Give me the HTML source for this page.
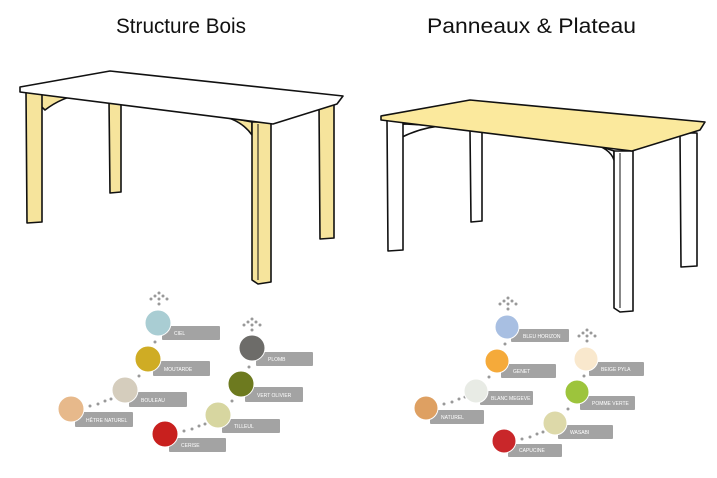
<!DOCTYPE html>
<html><head><meta charset="utf-8"><style>
html,body{margin:0;padding:0;background:#fff;width:717px;height:478px;overflow:hidden}
svg{display:block}
.t{font-family:"Liberation Sans",sans-serif;font-size:21px;fill:#111}
.l{font-family:"Liberation Sans",sans-serif;font-size:5px;fill:#fff}
.lb{fill:#a3a3a3}
</style></head><body>
<svg width="717" height="478" viewBox="0 0 717 478" xmlns="http://www.w3.org/2000/svg">
<text class="t" x="116" y="33" textLength="130" lengthAdjust="spacingAndGlyphs">Structure Bois</text>
<text class="t" x="427" y="33" textLength="209" lengthAdjust="spacingAndGlyphs">Panneaux &amp; Plateau</text>

<g stroke="#111" stroke-width="1.6" stroke-linejoin="round" fill="#f6e49c">
<polygon points="109,100 121,100 121,192 110,193"/>
<polygon points="319,104 334,104 334,238 320,239"/>
<path d="M28,94 Q40,96 48,93 L80,95 Q62,97 45,110 Z" />
<path d="M215,115 Q240,118 252,135 L252,122 Z"/>
<polygon points="26,92 42,92 42,222 27,223"/>
<polygon points="252,122 271,122 271,282 258,284 252,280"/>
<polygon points="20,87 110,71 343,96 337,104 273,124 20,92" fill="#fff"/>
</g>
<line x1="258" y1="124" x2="258" y2="280" stroke="#111" stroke-width="1"/>

<g stroke="#111" stroke-width="1.6" stroke-linejoin="round" fill="#fff">
<polygon points="470,130 482,130 482,221 471,222"/>
<polygon points="680,133 697,133 697,266 681,267"/>
<path d="M388,122 Q400,125 405,124 L440,126 Q420,128 400,138 Z"/>
<path d="M590,143 Q610,148 614,160 L614,151 Z"/>
<polygon points="387,120 403,120 403,250 388,251"/>
<polygon points="614,151 633,151 633,311 620,312 614,308"/>
<polygon points="381,116 470,100 705,122 700,130 632,151 381,120" fill="#fbe99d"/>
</g>
<line x1="620" y1="153" x2="620" y2="308" stroke="#111" stroke-width="1"/>

<g fill="#999">
<circle cx="159" cy="293" r="1.5"/><circle cx="155" cy="296" r="1.5"/><circle cx="163" cy="296" r="1.5"/><circle cx="151" cy="299" r="1.5"/><circle cx="159" cy="299" r="1.5"/><circle cx="167" cy="299" r="1.5"/><circle cx="159" cy="304" r="1.5"/>
<circle cx="252" cy="319" r="1.5"/><circle cx="248" cy="322" r="1.5"/><circle cx="256" cy="322" r="1.5"/><circle cx="244" cy="325" r="1.5"/><circle cx="252" cy="325" r="1.5"/><circle cx="260" cy="325" r="1.5"/><circle cx="252" cy="330" r="1.5"/>
<circle cx="155" cy="342" r="1.5"/><circle cx="139" cy="376" r="1.5"/>
<circle cx="90" cy="406" r="1.5"/><circle cx="98" cy="404" r="1.5"/><circle cx="105" cy="401" r="1.5"/><circle cx="111" cy="399" r="1.5"/>
<circle cx="249" cy="367" r="1.5"/><circle cx="232" cy="401" r="1.5"/>
<circle cx="184" cy="431" r="1.5"/><circle cx="192" cy="429" r="1.5"/><circle cx="199" cy="426" r="1.5"/><circle cx="205" cy="424" r="1.5"/>
<circle cx="508" cy="298" r="1.5"/><circle cx="504" cy="301" r="1.5"/><circle cx="512" cy="301" r="1.5"/><circle cx="500" cy="304" r="1.5"/><circle cx="508" cy="304" r="1.5"/><circle cx="516" cy="304" r="1.5"/><circle cx="508" cy="309" r="1.5"/>
<circle cx="587" cy="330" r="1.5"/><circle cx="583" cy="333" r="1.5"/><circle cx="591" cy="333" r="1.5"/><circle cx="579" cy="336" r="1.5"/><circle cx="587" cy="336" r="1.5"/><circle cx="595" cy="336" r="1.5"/><circle cx="587" cy="341" r="1.5"/>
<circle cx="505" cy="344" r="1.5"/><circle cx="489" cy="377" r="1.5"/>
<circle cx="444" cy="404" r="1.5"/><circle cx="452" cy="402" r="1.5"/><circle cx="459" cy="399" r="1.5"/><circle cx="465" cy="397" r="1.5"/>
<circle cx="584" cy="376" r="1.5"/><circle cx="568" cy="409" r="1.5"/>
<circle cx="522" cy="439" r="1.5"/><circle cx="530" cy="437" r="1.5"/><circle cx="537" cy="434" r="1.5"/><circle cx="543" cy="432" r="1.5"/>
</g>

<g>
<rect class="lb" x="162" y="326" width="58" height="14" rx="1"/><circle cx="158" cy="323" r="13" fill="#a9cdd3" stroke="#fff"/><text class="l" x="174" y="335">CIEL</text>
<rect class="lb" x="153" y="361" width="57" height="15" rx="1"/><circle cx="148" cy="359" r="13" fill="#cfac24" stroke="#fff"/><text class="l" x="164" y="371">MOUTARDE</text>
<rect class="lb" x="129" y="392" width="58" height="15" rx="1"/><circle cx="125" cy="390" r="13" fill="#d5cdbd" stroke="#fff"/><text class="l" x="141" y="402">BOULEAU</text>
<rect class="lb" x="75" y="412" width="58" height="15" rx="1"/><circle cx="71" cy="409" r="13" fill="#e7b98b" stroke="#fff"/><text class="l" x="86" y="422">HÊTRE NATUREL</text>
<rect class="lb" x="256" y="352" width="57" height="14" rx="1"/><circle cx="252" cy="348" r="13" fill="#6d6c69" stroke="#fff"/><text class="l" x="268" y="361">PLOMB</text>
<rect class="lb" x="245" y="387" width="58" height="15" rx="1"/><circle cx="241" cy="384" r="13" fill="#6d7a1f" stroke="#fff"/><text class="l" x="257" y="397">VERT OLIVIER</text>
<rect class="lb" x="222" y="419" width="58" height="14" rx="1"/><circle cx="218" cy="415" r="13" fill="#d7d6a0" stroke="#fff"/><text class="l" x="234" y="428">TILLEUL</text>
<rect class="lb" x="169" y="438" width="57" height="14" rx="1"/><circle cx="165" cy="434" r="13" fill="#c8201e" stroke="#fff"/><text class="l" x="181" y="447">CERISE</text>
</g>
<g>
<rect class="lb" x="511" y="329" width="58" height="13" rx="1"/><circle cx="507" cy="327" r="12" fill="#a8bfe2" stroke="#fff"/><text class="l" x="523" y="338">BLEU HORIZON</text>
<rect class="lb" x="501" y="364" width="55" height="14" rx="1"/><circle cx="497" cy="361" r="12" fill="#f5aa3a" stroke="#fff"/><text class="l" x="513" y="373">GENET</text>
<rect class="lb" x="480" y="391" width="53" height="14" rx="1"/><circle cx="476" cy="391" r="12" fill="#e8ebe5" stroke="#fff"/><text class="l" x="491" y="400">BLANC MEGEVE</text>
<rect class="lb" x="430" y="410" width="54" height="14" rx="1"/><circle cx="426" cy="408" r="12" fill="#dea062" stroke="#fff"/><text class="l" x="441" y="419">NATUREL</text>
<rect class="lb" x="589" y="362" width="55" height="14" rx="1"/><circle cx="586" cy="359" r="12" fill="#f9e8cd" stroke="#fff"/><text class="l" x="601" y="371">BEIGE PYLA</text>
<rect class="lb" x="580" y="396" width="55" height="14" rx="1"/><circle cx="577" cy="392" r="12" fill="#9dc43c" stroke="#fff"/><text class="l" x="592" y="405">POMME VERTE</text>
<rect class="lb" x="558" y="425" width="55" height="14" rx="1"/><circle cx="555" cy="423" r="12" fill="#ddd9a9" stroke="#fff"/><text class="l" x="570" y="434">WASABI</text>
<rect class="lb" x="508" y="444" width="54" height="13" rx="1"/><circle cx="504" cy="441" r="12" fill="#c9272a" stroke="#fff"/><text class="l" x="519" y="452">CAPUCINE</text>
</g>
</svg>
</body></html>
